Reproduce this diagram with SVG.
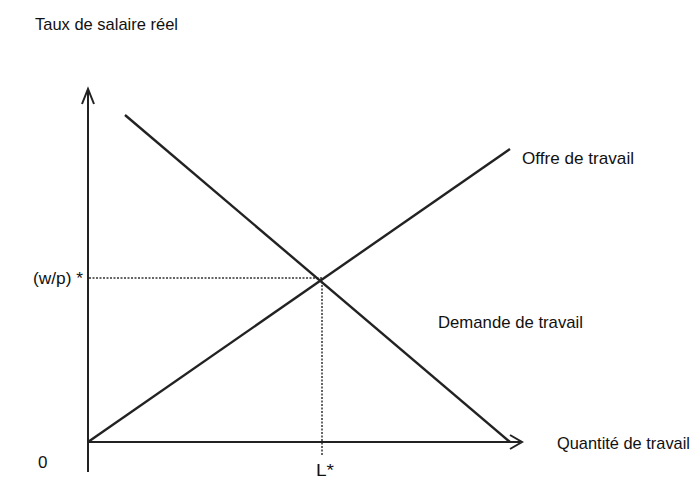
<svg xmlns="http://www.w3.org/2000/svg" width="695" height="490" viewBox="0 0 695 490">
<style>
text{font-family:"Liberation Sans",Arial,sans-serif;font-size:17px;fill:#111}
.ax{stroke:#222;stroke-width:2;fill:none}
.ln{stroke:#222;stroke-width:2.4;fill:none}
.dt{stroke:#333;stroke-width:1.5;stroke-dasharray:2 1.5;fill:none}
</style>
<rect width="695" height="490" fill="#fff"/>
<g id="connectors">
<line class="dt" x1="89" y1="278" x2="322" y2="278"/>
<line class="dt" x1="322" y1="278" x2="322" y2="456"/>
<line class="ax" x1="88" y1="472" x2="88" y2="90"/>
<polyline class="ax" points="82,104 88,89 94,104"/>
<line class="ax" x1="88" y1="442" x2="520" y2="442"/>
<polyline class="ax" points="510,435 522,442 510,449"/>
<line class="ln" x1="88" y1="442" x2="510" y2="149"/>
<line class="ln" x1="125" y1="115" x2="510" y2="442"/>
</g>
<g id="labels">
<text x="35" y="30" textLength="143" lengthAdjust="spacingAndGlyphs">Taux de salaire réel</text>
<text x="33" y="284" textLength="50" lengthAdjust="spacingAndGlyphs">(w/p) *</text>
<text x="38" y="468">0</text>
<text x="316" y="476" textLength="18" lengthAdjust="spacingAndGlyphs">L*</text>
<text x="522" y="164" textLength="112" lengthAdjust="spacingAndGlyphs">Offre de travail</text>
<text x="438" y="328" textLength="145" lengthAdjust="spacingAndGlyphs">Demande de travail</text>
<text x="557" y="449" textLength="133" lengthAdjust="spacingAndGlyphs">Quantité de travail</text>
</g>
</svg>
